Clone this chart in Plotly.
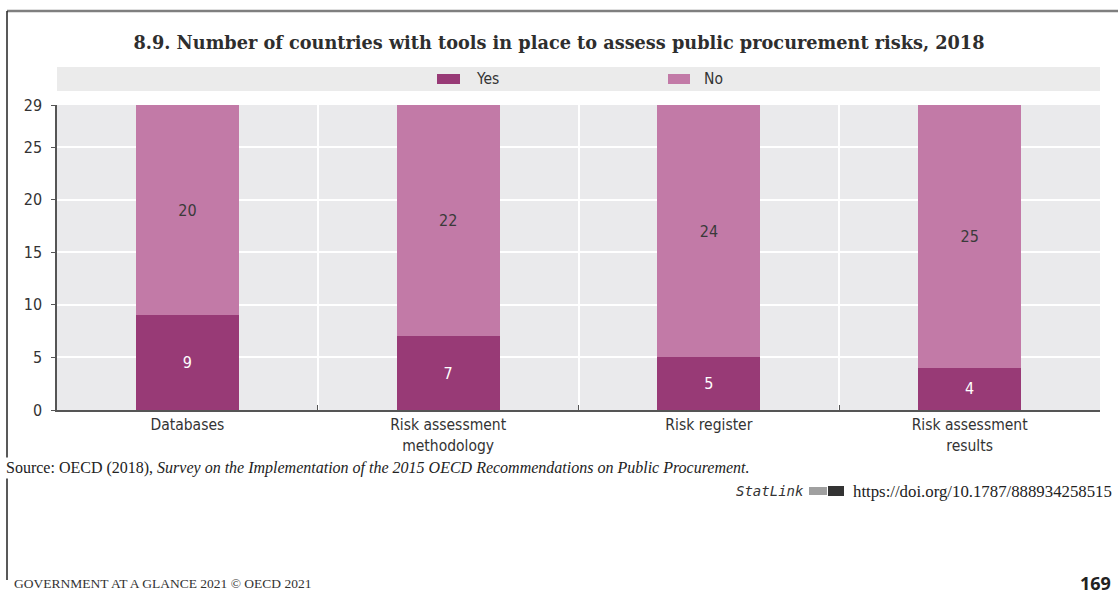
import plotly.graph_objects as go

categories = ["Databases", "Risk assessment<br>methodology", "Risk register", "Risk assessment<br>results"]
yes_values = [9, 7, 5, 4]
no_values = [20, 22, 24, 25]
series_names = ["Yes", "No"]
y_tick_vals = [0, 5, 10, 15, 20, 25, 29]

YES_COLOR = "#983a76"
NO_COLOR = "#c27aa7"
NARROW = "Liberation Sans Narrow, Arial Narrow, DejaVu Sans Condensed, sans-serif"
SERIF = "Liberation Serif, DejaVu Serif, serif"

W, H = 1118, 602
# plot area in page pixels
L, R, T, B = 57, 1100, 105, 410


def px(x):
    return (x - L) / (R - L)


def py(y):
    return (B - y) / (B - T)


fig = go.Figure()
fig.add_trace(go.Bar(
    x=categories, y=yes_values, name=series_names[0], marker_color=YES_COLOR,
    marker_line_width=0, text=[str(v) for v in yes_values], textposition="inside",
    insidetextanchor="middle", textangle=0,
    textfont=dict(color="white", size=16, family=NARROW), showlegend=False,
))
fig.add_trace(go.Bar(
    x=categories, y=no_values, name=series_names[1], marker_color=NO_COLOR,
    marker_line_width=0, text=[str(v) for v in no_values], textposition="inside",
    insidetextanchor="middle", textangle=0,
    textfont=dict(color="#3a3a3a", size=16, family=NARROW), showlegend=False,
))

shapes = []
annotations = []

# legend band
shapes.append(dict(type="rect", xref="paper", yref="paper", x0=px(57), x1=px(1100),
                   y0=py(91), y1=py(67), fillcolor="#ebebeb", line_width=0, layer="below"))
# legend swatches + labels
for name, color, sx0, sx1, tx in [(series_names[0], YES_COLOR, 437, 460, 474),
                                  (series_names[1], NO_COLOR, 668, 690, 702)]:
    shapes.append(dict(type="rect", xref="paper", yref="paper", x0=px(sx0), x1=px(sx1),
                       y0=py(84), y1=py(74), fillcolor=color, line_width=0))
    annotations.append(dict(text=name, xref="paper", yref="paper", x=px(tx), y=py(79),
                            xanchor="left", yanchor="middle", showarrow=False,
                            font=dict(family=NARROW, size=15.5, color="#333333")))

# page frame lines
shapes.append(dict(type="line", xref="paper", yref="paper", x0=px(7), x1=px(1120),
                   y0=py(11), y1=py(11), line=dict(color="#7f7f7f", width=2.5)))
shapes.append(dict(type="line", xref="paper", yref="paper", x0=px(7), x1=px(7),
                   y0=py(11), y1=py(580), line=dict(color="#222222", width=1.5)))

# source
annotations.append(dict(
    text="Source: OECD (2018), <i>Survey on the Implementation of the 2015 OECD Recommendations on Public Procurement.</i>",
    xref="paper", yref="paper", x=px(4), y=py(468), xanchor="left", yanchor="middle",
    showarrow=False, bgcolor="white",
    font=dict(family=SERIF, size=16, color="#222222")))
# statlink
annotations.append(dict(text="<i>StatLink</i>", xref="paper", yref="paper", x=px(806), y=py(491),
                        xanchor="right", yanchor="middle", showarrow=False,
                        font=dict(family="DejaVu Sans Mono, monospace", size=14, color="#333333")))
shapes.append(dict(type="rect", xref="paper", yref="paper", x0=px(809), x1=px(827),
                   y0=py(495), y1=py(487), fillcolor="#a0a0a0", line_width=0))
shapes.append(dict(type="rect", xref="paper", yref="paper", x0=px(828), x1=px(844),
                   y0=py(496), y1=py(486), fillcolor="#333333", line_width=0))
annotations.append(dict(text="https://doi.org/10.1787/888934258515", xref="paper", yref="paper",
                        x=px(1114), y=py(491), xanchor="right", yanchor="middle", showarrow=False,
                        font=dict(family=SERIF, size=16.8, color="#222222")))
# footer
annotations.append(dict(text="GOVERNMENT AT A GLANCE 2021 © OECD 2021", xref="paper", yref="paper",
                        x=px(12), y=py(583), xanchor="left", yanchor="middle", showarrow=False,
                        font=dict(family=SERIF, size=13.5, color="#333333")))
annotations.append(dict(text="<b>169</b>", xref="paper", yref="paper",
                        x=px(1113), y=py(583), xanchor="right", yanchor="middle", showarrow=False,
                        font=dict(family="Noto Sans, sans-serif", size=18, color="#222222")))

fig.update_layout(
    width=W, height=H,
    margin=dict(l=L, r=W - R, t=T, b=H - B, autoexpand=False),
    barmode="stack", bargap=0.605,
    plot_bgcolor="#eaeaec", paper_bgcolor="white",
    title=dict(text="<b>8.9. Number of countries with tools in place to assess public procurement risks, 2018</b>",
               x=px(559), xanchor="center", xref="paper", y=1 - 43 / H, yref="container",
               yanchor="middle",
               font=dict(family="DejaVu Serif, serif", size=17.7, color="#2e2e2e")),
    shapes=shapes, annotations=annotations,
    xaxis=dict(type="category", showgrid=True, gridcolor="white", gridwidth=2,
               tickson="boundaries", ticks="inside", ticklen=5, tickcolor="#555555",
               showline=True, linecolor="#555555", linewidth=1.5,
               tickfont=dict(family=NARROW, size=15.5, color="#333333"), fixedrange=True),
    yaxis=dict(range=[0, 29], tickmode="array", tickvals=y_tick_vals,
               showgrid=True, gridcolor="white", gridwidth=2, zeroline=False,
               ticks="outside", ticklen=4, tickcolor="#555555",
               showline=True, linecolor="#555555", linewidth=1.5,
               ticklabelstandoff=6,
               tickfont=dict(family=NARROW, size=16, color="#333333"), fixedrange=True),
    font=dict(family=NARROW),
)

fig.write_html("out.html", config={"displayModeBar": False},
               post_script="document.body.style.margin='0';document.body.style.overflow='hidden';")
